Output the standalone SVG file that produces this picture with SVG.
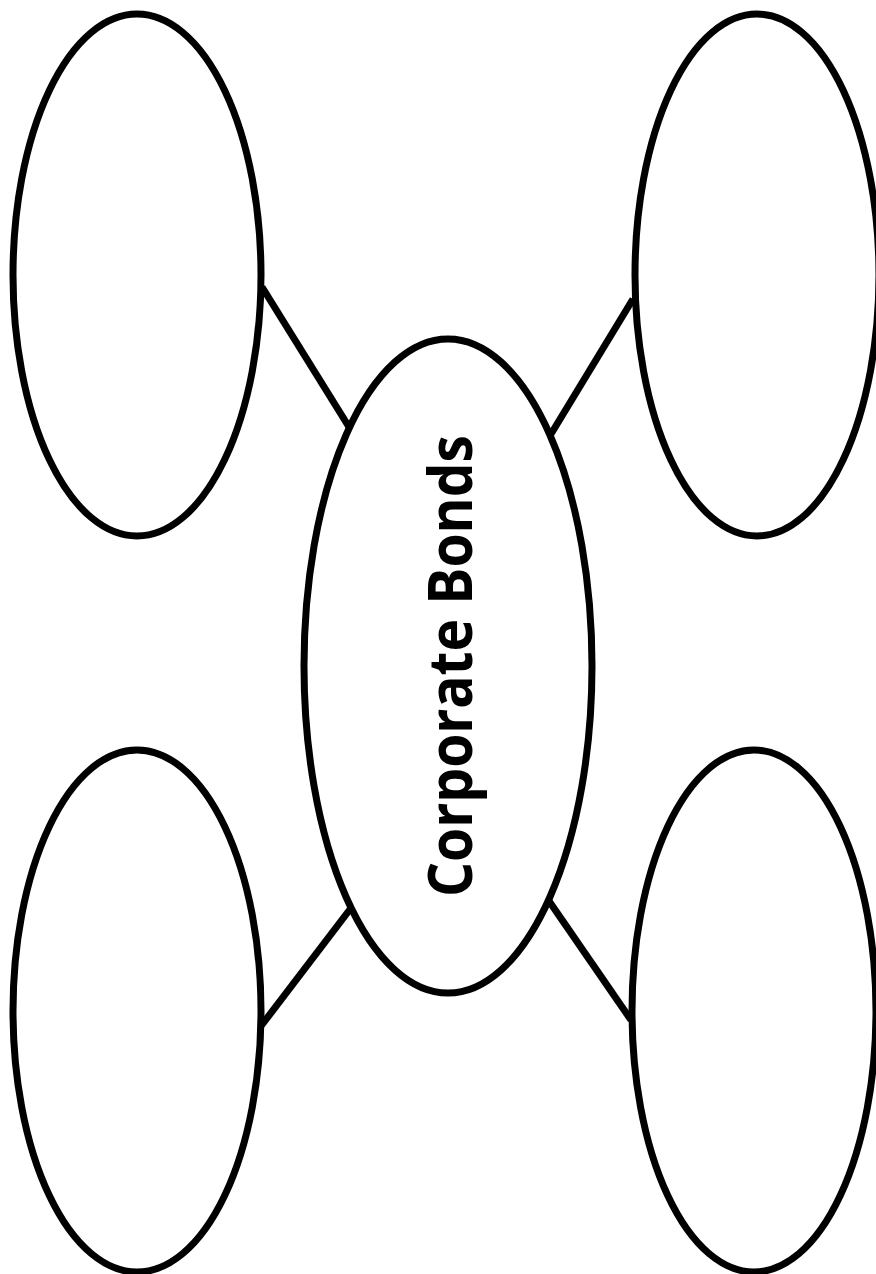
<svg xmlns="http://www.w3.org/2000/svg" width="876" height="1274" viewBox="0 0 876 1274">
<style>
.n{fill:#fff;stroke:#000;stroke-width:7}
.c{stroke:#000;stroke-width:7;fill:none}
.t{font-family:"Open Sans","Noto Sans",sans-serif;font-weight:bold;font-size:60px;fill:#000}
</style>
<rect width="876" height="1274" fill="#fff"/>
<g id="connectors">
<line class="c" x1="262" y1="287" x2="349" y2="427"/>
<line class="c" x1="633" y1="299" x2="551" y2="434"/>
<line class="c" x1="261" y1="1026" x2="351" y2="908"/>
<line class="c" x1="549" y1="901" x2="631" y2="1020"/>
</g>
<g id="node-tl"><ellipse class="n" cx="137" cy="275" rx="124" ry="261"/></g>
<g id="node-tr"><ellipse class="n" cx="757" cy="275" rx="122" ry="261"/></g>
<g id="node-bl"><ellipse class="n" cx="137" cy="1011" rx="124" ry="261"/></g>
<g id="node-br"><ellipse class="n" cx="754" cy="1011" rx="122" ry="261"/></g>
<g id="node-center">
<ellipse class="n" cx="448" cy="666" rx="144" ry="327"/>
<text class="t" transform="translate(472 666) rotate(-90)" text-anchor="middle" textLength="462" lengthAdjust="spacingAndGlyphs">Corporate Bonds</text>
</g>
</svg>
